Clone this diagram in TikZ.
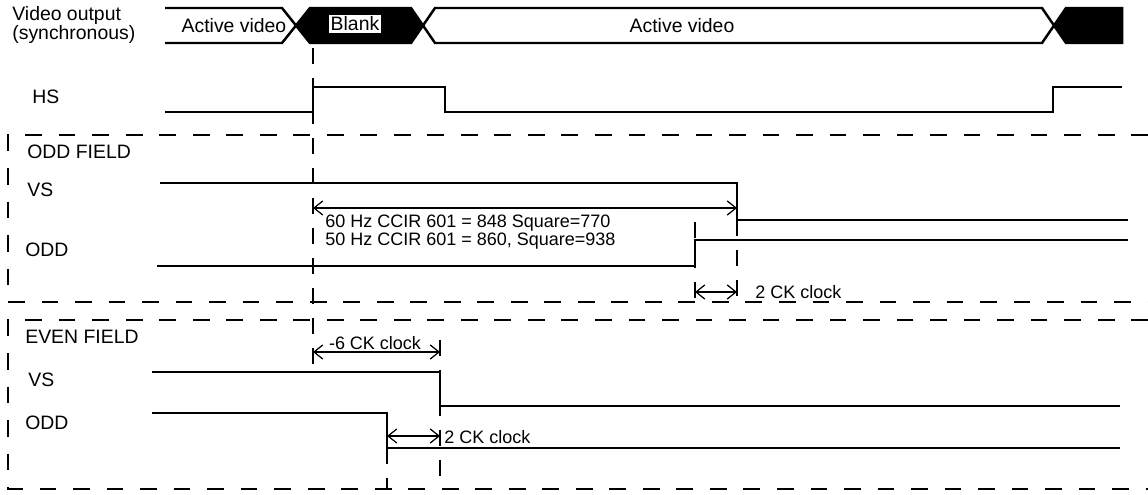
\documentclass[tikz,border=0pt]{standalone}
\usepackage{fontspec}
\setmainfont{Liberation Sans}
\usetikzlibrary{positioning}
\usetikzlibrary{arrows.meta}
\tikzstyle{every wave} = []
\tikzstyle{wave} = [draw, line width=1.4pt, line join=miter, every wave]
\tikzstyle{fieldbox} = [draw, line width=0.9pt, dash pattern=on 9.5pt off 9.5pt]
\tikzstyle{guide} = [draw, line width=0.9pt, dash pattern=on 9pt off 8pt]
\tikzstyle{dim} = [draw, line width=0.7pt, {Straight Barb[length=5pt,width=8pt]}-{Straight Barb[length=5pt,width=8pt]}]
\tikzstyle{sig} = [anchor=west, inner sep=0pt, font=\fontsize{11}{13}\selectfont]
\tikzstyle{note} = [inner sep=0pt, font=\fontsize{10.2}{12}\selectfont]

\begin{document}
\begin{tikzpicture}[x=0.5669pt, y=-0.5669pt]
  \useasboundingbox (0,0) rectangle (1148,495);

  % signal edges
  \coordinate (hsrise) at (313,87);
  \coordinate (hsfall) at (445,112);
  \coordinate (vsfall) at (737,183);
  \coordinate (oddrise) at (695,240);
  \coordinate (evsfall) at (440,372);
  \coordinate (eoddfall) at (387,413);

  % video output bus
  \draw[wave] (165,8) -- (282,8) -- (296,25.5) -- (282,43) -- (165,43);
  \filldraw[wave] (296,25.5) -- (310,8) -- (411,8) -- (423,25.5) -- (411,43) -- (310,43) -- cycle;
  \draw[wave] (423,25.5) -- (435,8) -- (1042,8) -- (1054,25.5) -- (1042,43) -- (435,43) -- cycle;
  \filldraw[wave] (1054,25.5) -- (1066,8) -- (1122,8) -- (1122,43) -- (1066,43) -- cycle;
  \node[sig] (video) at (12,15) {Video output};
  \node[sig] (sync) at (12,34) {(synchronous)};
  \node[sig, anchor=center] (active1) at (234,26) {Active video};
  \node[sig, anchor=center, fill=white, inner sep=1pt] (blank) at (355,24) {Blank};
  \node[sig, anchor=center] (active2) at (682,26) {Active video};

  % HS
  \node[sig] (hs) at (32,97) {HS};
  \draw[wave] (165,112) -- (hsrise |- hsfall) -- (hsrise) -- (hsfall |- hsrise) -- (hsfall)
    -- (1053,112) -- (1053,87) -- (1122,87);

  % odd field
  \draw[fieldbox] (1148,135) -- (8,135) -- (8,302) -- (1148,302);
  \node[sig] (oddfield) at (27,152) {ODD FIELD};
  \node[sig] (vs1) at (27,190) {VS};
  \node[sig] (odd1) at (25,250) {ODD};
  \draw[wave] (160,183) -- (vsfall) -- (737,220) -- (1128,220);
  \draw[wave] (157,266) -- (695,266) -- (oddrise) -- (1128,240);

  % even field
  \draw[fieldbox] (1148,320) -- (8,320) -- (8,489) -- (1148,489);
  \node[sig] (evenfield) at (25,337) {EVEN FIELD};
  \node[sig] (vs2) at (28,380) {VS};
  \node[sig] (odd2) at (25,423) {ODD};
  \draw[wave] (152,372) -- (evsfall) -- (440,406) -- (1120,406);
  \draw[wave] (152,413) -- (eoddfall) -- (387,448) -- (1120,448);

  % guides
  \draw[guide] (hsrise |- 0,48) -- (hsrise |- evsfall);
  \draw[guide] (oddrise |- 0,222) -- (oddrise |- 0,303);
  \draw[guide] (vsfall |- 0,220) -- (vsfall |- 0,302);
  \draw[guide] (eoddfall |- 0,448) -- (eoddfall |- 0,489);
  \draw[guide] (evsfall |- 0,340) -- (evsfall |- 0,489);

  % timings
  \draw[dim] (hsrise |- 0,208) -- (vsfall |- 0,208);
  \node[note, anchor=west] (ccir60) at (325,223) {60 Hz CCIR 601 = 848 Square=770};
  \node[note, anchor=west] (ccir50) at (325,241) {50 Hz CCIR 601 = 860, Square=938};
  \draw[dim] (oddrise |- 0,292) -- (vsfall |- 0,292);
  \node[note, anchor=west] (ck2a) at (755,292) {2 CK clock};
  \draw[dim] (hsrise |- 0,352) -- (evsfall |- 0,352);
  \node[note] (ck6) at (375,343) {-6 CK clock};
  \draw[dim] (eoddfall |- 0,436) -- (evsfall |- 0,436);
  \node[note, anchor=west] (ck2b) at (444,437) {2 CK clock};
\end{tikzpicture}
\end{document}
